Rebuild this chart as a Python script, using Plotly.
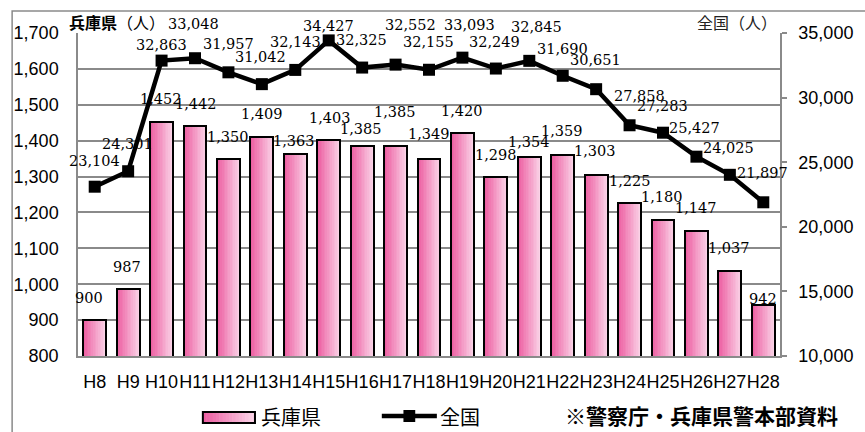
import plotly.graph_objects as go

# --- data -------------------------------------------------------------
years = ["H8", "H9", "H10", "H11", "H12", "H13", "H14", "H15", "H16", "H17", "H18",
         "H19", "H20", "H21", "H22", "H23", "H24", "H25", "H26", "H27", "H28"]
hyogo = [900, 987, 1452, 1442, 1350, 1409, 1363, 1403, 1385, 1385, 1349,
         1420, 1298, 1354, 1359, 1303, 1225, 1180, 1147, 1037, 942]
national = [23104, 24301, 32863, 33048, 31957, 31042, 32143, 34427, 32325, 32552, 32155,
            33093, 32249, 32845, 31690, 30651, 27858, 27283, 25427, 24025, 21897]

left_ticks = [800, 900, 1000, 1100, 1200, 1300, 1400, 1500, 1600, 1700]
right_ticks = [10000, 15000, 20000, 25000, 30000, 35000]

# value-label nudges (pixels up / right of the mark) so neighbouring labels don't collide
hyogo_label_up = [21, 21, 22, 21, 21, 22, 12, 21, 16, 33, 24, 21, 21, 14, 23, 23, 21, 22, 22, 22, 5]
hyogo_label_right = [-6, -1, -1, 1, 0, 0, -1, 1, -1, -1, 0, 0, 0, 0, -1, -1, 0, -1, 0, -1, 0]
national_label_up = [25, 26, 15, 33, 27, 26, 27, 13, 27, 39, 27, 32, 26, 33, 26, 28, 28, 26, 28, 26, 28]
national_label_right = [0, -1, 0, -2, 0, -1, 0, 0, -1, 15, -1, 7, -1, 7, 0, -1, 10, -1, -2, -1, -1]

# --- layout geometry ----------------------------------------------------
W, H = 865, 432
ML, MR, MT, MB = 78, 73, 33, 76
PW, PH = W - ML - MR, H - MT - MB

GRID = "#8a8a8a"
PINK_L = (236, 92, 160)
PINK_R = (251, 214, 233)
N_SLICES = 14
BAR_W = 0.68


def px(xp):
    return (xp - ML) / PW


def py(yp):
    return (H - MB - yp) / PH


def pink(t):
    c = [round(a + (b - a) * t) for a, b in zip(PINK_L, PINK_R)]
    return f"rgb({c[0]},{c[1]},{c[2]})"


xs = list(range(len(years)))
fig = go.Figure()

# gradient bars: thin vertical slices, left (deep pink) to right (pale pink)
sw = BAR_W / N_SLICES
for k in range(N_SLICES):
    fig.add_trace(go.Bar(
        x=xs, y=hyogo, width=sw * 1.25, offset=-BAR_W / 2 + k * sw,
        marker=dict(color=pink((k + 0.5) / N_SLICES), line=dict(width=0)),
        showlegend=False, hoverinfo="skip",
    ))
# bar outlines
fig.add_trace(go.Bar(
    x=xs, y=hyogo, width=BAR_W, name="兵庫県",
    marker=dict(color="rgba(0,0,0,0)", line=dict(color="black", width=2)),
    showlegend=False,
))

# national line on the secondary axis
fig.add_trace(go.Scatter(
    x=xs, y=national, yaxis="y2", mode="lines+markers", name="全国",
    line=dict(color="black", width=4.5),
    marker=dict(symbol="square", size=12, color="black"),
    showlegend=False,
))

LABEL_FONT = dict(family="DejaVu Serif", size=14.5, color="black")
ann = []
for i, v in enumerate(hyogo):
    ann.append(dict(x=i, y=v, xref="x", yref="y", text=f"{v:,}", showarrow=False,
                    font=LABEL_FONT, yshift=hyogo_label_up[i] + 1, xshift=hyogo_label_right[i]))
for i, v in enumerate(national):
    ann.append(dict(x=i, y=v, xref="x", yref="y2", text=f"{v:,}", showarrow=False,
                    font=LABEL_FONT, yshift=national_label_up[i] + 1, xshift=national_label_right[i]))

# axis unit captions
ann.append(dict(x=px(67), y=py(22), xref="paper", yref="paper", xanchor="left", yanchor="middle",
                text="<b>兵庫県</b>（人）", showarrow=False,
                font=dict(family="Noto Sans CJK JP", size=16, color="black")))
ann.append(dict(x=px(791), y=py(22), xref="paper", yref="paper", xanchor="right", yanchor="middle",
                text="全国（人）", showarrow=False,
                font=dict(family="Noto Sans CJK JP", size=16, color="#222")))

# legend texts and source note
LEG_FONT = dict(family="Noto Sans CJK JP", size=20, color="black")
ann.append(dict(x=px(262), y=py(416), xref="paper", yref="paper", xanchor="left", yanchor="middle",
                text="兵庫県", showarrow=False, font=LEG_FONT))
ann.append(dict(x=px(444), y=py(416), xref="paper", yref="paper", xanchor="left", yanchor="middle",
                text="全国", showarrow=False, font=LEG_FONT))
ann.append(dict(x=px(571), y=py(415), xref="paper", yref="paper", xanchor="left", yanchor="middle",
                text="<b>※警察庁・兵庫県警本部資料</b>", showarrow=False,
                font=dict(family="Noto Sans CJK JP", size=21, color="black")))

shapes = []
# outer frame (its right and bottom sides run past the page edge)
shapes.append(dict(type="rect", xref="paper", yref="paper",
                   x0=px(11), x1=px(W + 20), y0=py(H + 20), y1=py(11),
                   line=dict(color=GRID, width=1.5), fillcolor="rgba(0,0,0,0)", layer="below"))
# legend swatch: gradient rectangle
lx0, lx1, ly0, ly1 = 205, 258, 412, 423
n_leg = 16
for k in range(n_leg):
    a = lx0 + (lx1 - lx0) * k / n_leg
    b = lx0 + (lx1 - lx0) * (k + 1) / n_leg + 0.6
    shapes.append(dict(type="rect", xref="paper", yref="paper",
                       x0=px(a), x1=px(b), y0=py(ly1), y1=py(ly0),
                       line=dict(width=0), fillcolor=pink((k + 0.5) / n_leg)))
shapes.append(dict(type="rect", xref="paper", yref="paper",
                   x0=px(lx0), x1=px(lx1), y0=py(ly1), y1=py(ly0),
                   line=dict(color="black", width=2), fillcolor="rgba(0,0,0,0)"))
# legend swatch: line with square marker
shapes.append(dict(type="line", xref="paper", yref="paper",
                   x0=px(387), x1=px(443), y0=py(416), y1=py(416),
                   line=dict(color="black", width=4.5)))
shapes.append(dict(type="rect", xref="paper", yref="paper",
                   x0=px(409), x1=px(421), y0=py(422), y1=py(410),
                   line=dict(width=0), fillcolor="black"))

TICK_FONT = dict(family="Liberation Sans", size=18, color="black")
fig.update_layout(
    width=W, height=H,
    margin=dict(l=ML, r=MR, t=MT, b=MB, pad=0),
    paper_bgcolor="white", plot_bgcolor="white",
    barmode="overlay", bargap=0,
    showlegend=False,
    font=dict(family="Liberation Sans"),
    xaxis=dict(
        range=[-0.5, len(years) - 0.5], tickmode="array", tickvals=xs, ticktext=years,
        showgrid=False, zeroline=False, showline=True, linecolor=GRID, linewidth=2,
        ticks="", tickangle=0, ticklabelstandoff=8, tickfont=TICK_FONT, fixedrange=True,
    ),
    yaxis=dict(
        range=[800, 1700], tickmode="array", tickvals=left_ticks, tickformat=",d",
        showgrid=True, gridcolor=GRID, gridwidth=1.5, zeroline=False,
        showline=True, linecolor=GRID, linewidth=1.5,
        ticks="", ticklabelstandoff=14, tickfont=TICK_FONT,
    ),
    yaxis2=dict(
        range=[10000, 35000], tickmode="array", tickvals=right_ticks, tickformat=",d",
        overlaying="y", side="right", showgrid=False, zeroline=False,
        showline=True, linecolor=GRID, linewidth=1.5,
        ticks="outside", ticklen=5, tickcolor=GRID, tickwidth=1.5,
        ticklabelstandoff=8, tickfont=TICK_FONT,
    ),
    annotations=ann,
    shapes=shapes,
)

fig.write_html("out.html")
